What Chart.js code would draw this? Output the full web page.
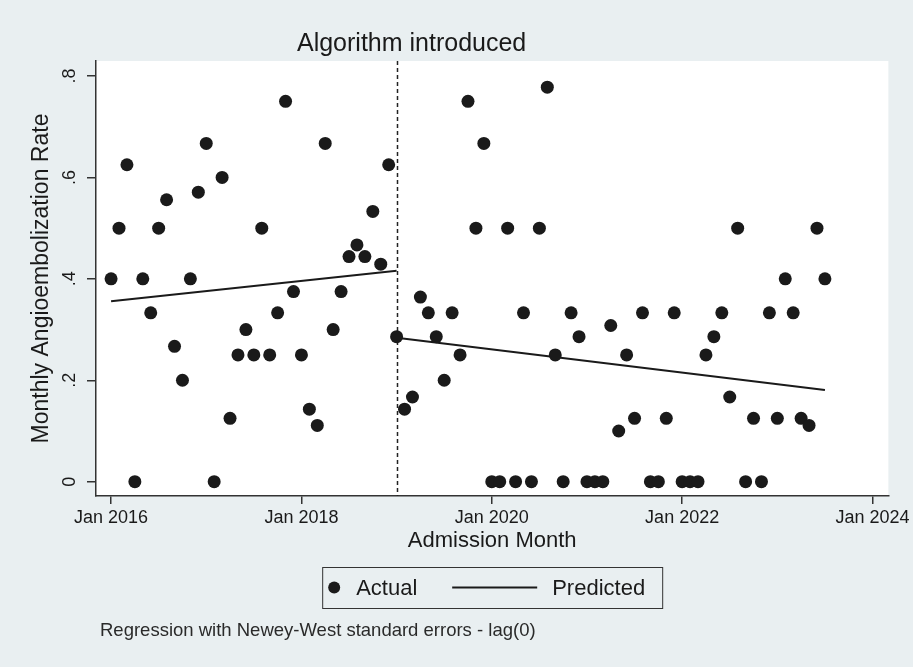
<!DOCTYPE html>
<html>
<head>
<meta charset="utf-8">
<script src="https://cdn.jsdelivr.net/npm/chart.js@4.4.1/dist/chart.umd.min.js"></script>
<style>
  html, body { margin: 0; padding: 0; background: #e9eff1; }
  canvas { display: block; }
</style>
</head>
<body>
<canvas id="itsChart" width="913" height="667"></canvas>
<script>
// monthly angioembolization rate, Jan..Dec of each year
const rate2016 = [0.40, 0.50, 0.625, 0, 0.40, 0.333, 0.50, 0.556, 0.267, 0.20, 0.40, 0.571];
const rate2017 = [0.667, 0, 0.60, 0.125, 0.25, 0.30, 0.25, 0.50, 0.25, 0.333, 0.75, 0.375];
const rate2018 = [0.25, 0.143, 0.111, 0.667, 0.30, 0.375, 0.444, 0.467, 0.444, 0.533, 0.429, 0.625];
const rate2019 = [0.286, 0.143, 0.167, 0.364, 0.333, 0.286, 0.20, 0.333, 0.25, 0.75, 0.50, 0.667];
const rate2020 = [0, 0, 0.50, 0, 0.333, 0, 0.50, 0.778, 0.25, 0, 0.333, 0.286];
const rate2021 = [0, 0, 0, 0.308, 0.10, 0.25, 0.125, 0.333, 0, 0, 0.125, 0.333];
const rate2022 = [0, 0, 0, 0.25, 0.286, 0.333, 0.167, 0.50, 0, 0.125, 0, 0.333];
const rate2023 = [0.125, 0.40, 0.333, 0.125, 0.111, 0.50, 0.40];

// fitted segments (month index since Jan 2016)
const predPreMonths = [0, 36];
const predPre = [0.356, 0.416];
const predPostMonths = [36, 90];
const predPost = [0.284, 0.181];

const interventionMonth = 36; // Jan 2019
const xTickMonths = [0, 24, 48, 72, 96];
const xTickLabels = ['Jan 2016', 'Jan 2018', 'Jan 2020', 'Jan 2022', 'Jan 2024'];
const yTickValues = [0, 0.2, 0.4, 0.6, 0.8];
const yTickLabels = ['0', '.2', '.4', '.6', '.8'];

const FONT = "'Liberation Sans', Arial, sans-serif";
const INK = '#1a1a1a';

const actual = [rate2016, rate2017, rate2018, rate2019, rate2020, rate2021, rate2022, rate2023]
  .flat()
  .map((v, i) => ({ x: i, y: v }));

const toPoints = (months, vals) => months.map((m, i) => ({ x: m, y: vals[i] }));

const decorations = {
  id: 'decorations',
  beforeDraw(chart) {
    const { ctx, chartArea: a } = chart;
    ctx.save();
    ctx.fillStyle = '#e9eff1';
    ctx.fillRect(0, 0, chart.width, chart.height);
    ctx.fillStyle = '#ffffff';
    ctx.fillRect(a.left, a.top, a.right - a.left, a.bottom - a.top);
    ctx.restore();
  },
  beforeDatasetsDraw(chart) {
    // dashed line at the intervention month
    const { ctx, chartArea: a, scales: { x } } = chart;
    const px = Math.round(x.getPixelForValue(interventionMonth)) + 0.5;
    ctx.save();
    ctx.strokeStyle = '#222';
    ctx.lineWidth = 1.5;
    ctx.setLineDash([4, 3]);
    ctx.beginPath();
    ctx.moveTo(px, a.top);
    ctx.lineTo(px, a.bottom);
    ctx.stroke();
    ctx.restore();
  },
  afterDraw(chart) {
    const { ctx, chartArea: a, scales: { x, y } } = chart;
    ctx.save();
    ctx.fillStyle = INK;

    // rotated y tick labels
    ctx.font = `18px ${FONT}`;
    ctx.textAlign = 'center';
    ctx.textBaseline = 'middle';
    yTickValues.forEach((v, i) => {
      ctx.save();
      ctx.translate(70, y.getPixelForValue(v));
      ctx.rotate(-Math.PI / 2);
      ctx.fillText(yTickLabels[i], 0, 0);
      ctx.restore();
    });

    // label above the intervention line
    ctx.font = `25px ${FONT}`;
    ctx.fillText('Algorithm introduced', x.getPixelForValue(interventionMonth) + 15, 44);

    // boxed legend
    const cx = (a.left + a.right) / 2;
    const bx = cx - 170, by = 567, bw = 340, bh = 41, my = by + bh / 2;
    ctx.strokeStyle = '#333';
    ctx.lineWidth = 1;
    ctx.strokeRect(bx + 0.5, by + 0.5, bw, bh);
    ctx.beginPath();
    ctx.arc(bx + 12, my, 6, 0, Math.PI * 2);
    ctx.fill();
    ctx.font = `22px ${FONT}`;
    ctx.textAlign = 'left';
    ctx.fillText('Actual', bx + 34, my + 1);
    ctx.strokeStyle = INK;
    ctx.lineWidth = 2;
    ctx.beginPath();
    ctx.moveTo(bx + 130, my);
    ctx.lineTo(bx + 215, my);
    ctx.stroke();
    ctx.fillText('Predicted', bx + 230, my + 1);

    // note
    ctx.font = `18.5px ${FONT}`;
    ctx.fillStyle = '#2a2a2a';
    ctx.fillText('Regression with Newey-West standard errors - lag(0)', 100, 631);
    ctx.restore();
  }
};

new Chart(document.getElementById('itsChart'), {
  type: 'scatter',
  data: {
    datasets: [
      {
        label: 'Actual',
        data: actual,
        pointRadius: 6.5,
        pointHoverRadius: 6.5,
        pointBackgroundColor: INK,
        pointBorderWidth: 0,
        order: 1
      },
      {
        label: 'Predicted',
        type: 'line',
        data: toPoints(predPreMonths, predPre),
        showLine: true,
        borderColor: INK,
        borderWidth: 2,
        pointRadius: 0,
        fill: false,
        order: 2
      },
      {
        label: 'Predicted',
        type: 'line',
        data: toPoints(predPostMonths, predPost),
        showLine: true,
        borderColor: INK,
        borderWidth: 2,
        pointRadius: 0,
        fill: false,
        order: 2
      }
    ]
  },
  options: {
    responsive: false,
    animation: false,
    devicePixelRatio: 1,
    layout: { padding: { top: 61, right: 23, bottom: 111, left: 0 } },
    plugins: {
      legend: { display: false },
      tooltip: { enabled: false }
    },
    scales: {
      x: {
        type: 'linear',
        min: -1.9,
        max: 98,
        afterBuildTicks: s => { s.ticks = xTickMonths.map(v => ({ value: v })); },
        afterFit: s => { s.height = 60; },
        grid: { drawOnChartArea: false, drawTicks: true, tickLength: 8, color: '#333', lineWidth: 1.5 },
        border: { display: true, color: '#333', width: 1.5 },
        ticks: {
          color: INK,
          font: { family: FONT, size: 18 },
          padding: 3,
          maxRotation: 0,
          autoSkip: false,
          callback: (v) => xTickLabels[xTickMonths.indexOf(v)]
        },
        title: {
          display: true,
          text: 'Admission Month',
          color: INK,
          font: { family: FONT, size: 22 },
          padding: { top: 0, bottom: 2 }
        }
      },
      y: {
        type: 'linear',
        min: -0.0282,
        max: 0.8296,
        afterBuildTicks: s => { s.ticks = yTickValues.map(v => ({ value: v })); },
        afterFit: s => { s.width = 96; },
        grid: { drawOnChartArea: false, drawTicks: true, tickLength: 9, color: '#333', lineWidth: 1.5 },
        border: { display: true, color: '#333', width: 1.5 },
        ticks: { color: 'rgba(0,0,0,0)', font: { family: FONT, size: 18 }, autoSkip: false },
        title: {
          display: true,
          text: 'Monthly Angioembolization Rate',
          color: INK,
          font: { family: FONT, size: 23 },
          padding: { top: 28, bottom: 0 }
        }
      }
    }
  },
  plugins: [decorations]
});
</script>
</body>
</html>
